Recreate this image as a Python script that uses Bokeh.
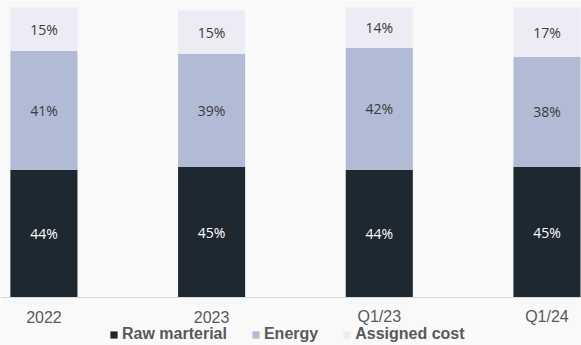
from bokeh.plotting import figure
from bokeh.models import ColumnDataSource, Range1d, Legend, LegendItem, Span
from bokeh.core.properties import value
from bokeh.embed import file_html
from bokeh.resources import INLINE

periods = ["2022", "2023", "Q1/23", "Q1/24"]
raw_material = [44, 45, 44, 45]
energy = [41, 39, 42, 38]
assigned_cost = [15, 15, 14, 17]

series_names = ["Raw marterial", "Energy", "Assigned cost"]
colors = ["#1d2830", "#b1bbd5", "#edebf3"]
label_colors = ["#ffffff", "#3a3a3a", "#3a3a3a"]

xs = list(range(len(periods)))
src = ColumnDataSource(dict(x=xs, raw=raw_material, energy=energy, assigned=assigned_cost))

p = figure(width=581, height=345, output_backend="svg", toolbar_location=None,
           x_range=Range1d(-0.259, 3.206), y_range=Range1d(-16.55, 102.4),
           min_border_left=0, min_border_right=0, min_border_top=0, min_border_bottom=0)
p.background_fill_color = "#f9f9fa"
p.border_fill_color = "#f9f9fa"
p.outline_line_color = None
p.grid.visible = False
p.axis.visible = False

renderers = p.vbar_stack(["raw", "energy", "assigned"], x="x", width=0.4, color=colors,
                         line_color=None, source=src)

# labels centered in each segment
cols = [raw_material, energy, assigned_cost]
bottoms = [0] * len(periods)
for vals, tc in zip(cols, label_colors):
    ys = [b + v / 2 for b, v in zip(bottoms, vals)]
    txt = [f"{v}%" for v in vals]
    p.text(x=xs, y=ys, text=txt, text_align="center", text_baseline="middle",
           text_color=tc, text_font=value("Open Sans"), text_font_size="14px")
    bottoms = [b + v for b, v in zip(bottoms, vals)]

# baseline and category labels
p.add_layout(Span(location=0, dimension="width", line_color="#d9d9d9", line_width=1))
p.text(x=xs, y=[-6.6] * len(xs), text=periods, text_align="center", text_baseline="middle",
       text_color="#595959", text_font=value("Liberation Sans"), text_font_size="16px")

legend = Legend(items=[LegendItem(label=n, renderers=[r]) for n, r in zip(series_names, renderers)],
                orientation="horizontal", location=(109, 2),
                label_text_font="Liberation Sans", label_text_font_size="16px",
                label_text_font_style="bold", label_text_color="#595959",
                glyph_width=9, glyph_height=9, label_standoff=4, spacing=24,
                padding=0, margin=0, label_height=14,
                background_fill_alpha=0, border_line_color=None)
p.add_layout(legend)

open("out.html", "w").write(file_html(p, INLINE))
